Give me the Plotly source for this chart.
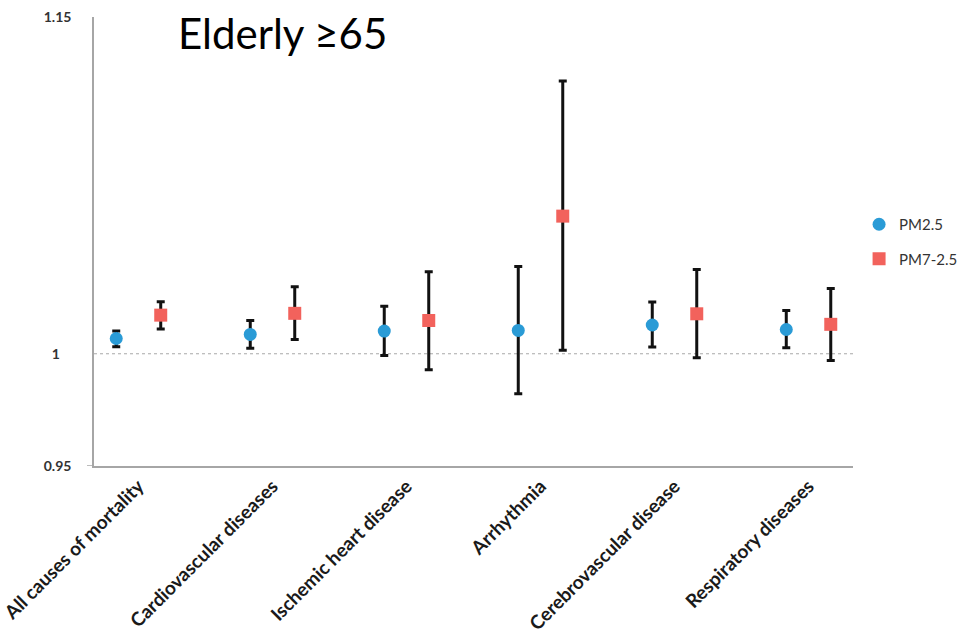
import plotly.graph_objects as go

# Relative risk estimates with 95% CI, elderly (>=65)
categories = [
    "All causes of mortality",
    "Cardiovascular diseases",
    "Ischemic heart disease",
    "Arrhythmia",
    "Cerebrovascular disease",
    "Respiratory diseases",
]

pm25_rr = [1.0068, 1.0086, 1.0101, 1.0104, 1.0128, 1.0108]
pm25_lo = [1.0031, 1.0024, 0.9992, 0.9822, 1.0030, 1.0027]
pm25_hi = [1.0101, 1.0148, 1.0212, 1.0389, 1.0230, 1.0193]

pm72_rr = [1.0172, 1.0180, 1.0148, 1.0613, 1.0178, 1.0131]
pm72_lo = [1.0110, 1.0064, 0.9929, 1.0016, 0.9982, 0.9970]
pm72_hi = [1.0232, 1.0298, 1.0365, 1.1215, 1.0375, 1.0291]

y_ticks = [0.95, 1, 1.15]
y_tick_text = ["0.95", "1\u2007\u00a0", "1.15"]

series = [
    ("PM2.5", pm25_rr, pm25_lo, pm25_hi, -0.166, "circle", "#2a9bd6"),
    ("PM7-2.5", pm72_rr, pm72_lo, pm72_hi, 0.166, "square", "#f2625c"),
]

fig = go.Figure()
idx = list(range(len(categories)))
for name, rr, lo, hi, off, sym, col in series:
    fig.add_trace(go.Scatter(
        x=[i + off for i in idx],
        y=rr,
        mode="markers",
        name=name,
        legendgroup=name,
        marker=dict(symbol=sym, size=13, color=col, line=dict(width=0)),
        error_y=dict(
            type="data",
            symmetric=False,
            array=[h - r for h, r in zip(hi, rr)],
            arrayminus=[r - l for r, l in zip(rr, lo)],
            color="#111111",
            thickness=3,
            width=4,
        ),
    ))

# reference line at RR = 1
fig.add_shape(type="line", xref="paper", x0=0, x1=1, yref="y", y0=1, y1=1,
              line=dict(color="#a8a8a8", width=1, dash="dot"), layer="below")
# tick stub at the bottom of the value axis
fig.add_shape(type="line", xref="paper", x0=-7 / 759, x1=0, yref="y", y0=0.95, y1=0.95,
              line=dict(color="#a6a6a6", width=1.5))

fig.add_annotation(text="Elderly ≥65", xref="paper", yref="paper",
                   x=0.108, y=0.965, xanchor="left", yanchor="middle",
                   showarrow=False,
                   font=dict(family="Lato, Liberation Sans Narrow, sans-serif", size=42, color="#000000"))

fig.update_layout(
    width=967, height=639,
    margin=dict(l=94, r=114, t=17, b=173, autoexpand=False),
    paper_bgcolor="white", plot_bgcolor="white",
    showlegend=True,
    legend=dict(x=1.008, y=0.50, xanchor="left", yanchor="middle",
                font=dict(family="Lato, sans-serif", size=15, color="#333333"),
                tracegroupgap=12, itemwidth=30, bgcolor="rgba(0,0,0,0)"),
    xaxis=dict(
        range=[-0.332, 5.332],
        tickmode="array", tickvals=idx, ticktext=categories,
        tickangle=-45,
        tickfont=dict(family="Lato, sans-serif", size=19, color="#1a1a1a", weight="bold"),
        ticklabeloverflow="allow",
        showgrid=False, zeroline=False,
        showline=True, linecolor="#a6a6a6", linewidth=1.5,
        ticks="",
    ),
    yaxis=dict(
        range=[0.95, 1.15],
        tickmode="array", tickvals=y_ticks, ticktext=y_tick_text,
        tickfont=dict(family="Lato, sans-serif", size=14, color="#333333", weight="bold"),
        showgrid=False, zeroline=False,
        showline=True, linecolor="#a6a6a6", linewidth=1.5,
        ticks="", ticklabelstandoff=18,
    ),
)

fig.write_html("out.html")
